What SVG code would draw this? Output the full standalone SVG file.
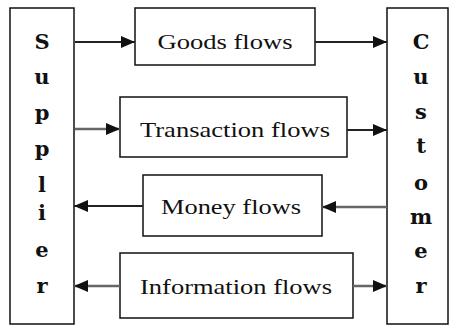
<svg xmlns="http://www.w3.org/2000/svg" width="456" height="326" viewBox="0 0 456 326">
<defs>
<marker id="ah" viewBox="0 0 14 12" refX="14" refY="6" markerWidth="14" markerHeight="12" markerUnits="userSpaceOnUse" orient="auto">
<path d="M0,0 L14,6 L0,12 Z" fill="#111"/>
</marker>
</defs>
<style>
.box{fill:#fff;stroke:#111;stroke-width:1.5}
.lbl{font-family:"Liberation Serif","DejaVu Serif",serif;font-size:21px;fill:#111;text-anchor:middle}
.ch{font-family:"DejaVu Serif","Liberation Serif",serif;font-weight:bold;font-size:21px;fill:#111;text-anchor:middle}
.c{stroke:#222;stroke-width:1.8;fill:none;marker-end:url(#ah)}
.g{stroke:#666;stroke-width:2.5}
</style>
<rect width="456" height="326" fill="#fff"/>
<g id="supplier">
<rect class="box" x="10" y="8" width="64" height="316"/>
<text class="ch" x="42" y="49">S</text>
<text class="ch" x="42" y="84">u</text>
<text class="ch" x="42" y="120">p</text>
<text class="ch" x="42" y="156">p</text>
<text class="ch" x="42" y="192">l</text>
<text class="ch" x="42" y="220">i</text>
<text class="ch" x="42" y="257">e</text>
<text class="ch" x="42" y="293">r</text>
</g>
<g id="customer">
<rect class="box" x="387" y="8" width="61" height="316"/>
<text class="ch" x="421" y="49">C</text>
<text class="ch" x="421" y="84">u</text>
<text class="ch" x="421" y="119">s</text>
<text class="ch" x="421" y="153">t</text>
<text class="ch" x="421" y="190">o</text>
<text class="ch" x="421" y="224">m</text>
<text class="ch" x="421" y="258">e</text>
<text class="ch" x="421" y="293">r</text>
</g>
<g id="goods">
<rect class="box" x="135" y="8" width="180" height="57"/>
<text class="lbl" x="225" y="49" textLength="135" lengthAdjust="spacingAndGlyphs">Goods flows</text>
</g>
<g id="transaction">
<rect class="box" x="120" y="97" width="227" height="60"/>
<text class="lbl" x="235" y="137" textLength="190" lengthAdjust="spacingAndGlyphs">Transaction flows</text>
</g>
<g id="money">
<rect class="box" x="143" y="175" width="179" height="61"/>
<text class="lbl" x="231" y="214" textLength="140" lengthAdjust="spacingAndGlyphs">Money flows</text>
</g>
<g id="information">
<rect class="box" x="120" y="253" width="233" height="65"/>
<text class="lbl" x="236" y="294" textLength="192" lengthAdjust="spacingAndGlyphs">Information flows</text>
</g>
<g id="connectors">
<line class="c" x1="75" y1="42" x2="135" y2="42"/>
<line class="c" x1="315" y1="42" x2="387" y2="42"/>
<line class="c g" x1="75" y1="129" x2="120" y2="129"/>
<line class="c" x1="347" y1="130" x2="387" y2="130"/>
<line class="c" x1="143" y1="206" x2="74" y2="206"/>
<line class="c g" x1="387" y1="207" x2="322" y2="207"/>
<line class="c g" x1="120" y1="286" x2="74" y2="286"/>
<line class="c g" x1="353" y1="286" x2="387" y2="286"/>
</g>
</svg>
